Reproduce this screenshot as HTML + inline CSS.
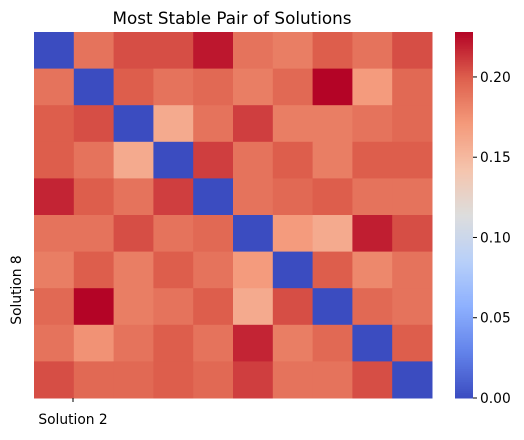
<!DOCTYPE html>
<html><head><meta charset="utf-8"><style>
body{margin:0;background:#fff;font-family:"Liberation Sans","DejaVu Sans",sans-serif}
</style></head><body>
<svg width="524" height="435" xmlns="http://www.w3.org/2000/svg" font-family="DejaVu Sans, Liberation Sans, sans-serif">
<text x="232" y="24" text-anchor="middle" font-size="16.8" fill="#000">Most Stable Pair of Solutions</text>
<g id="cells"></g>
<g id="cbar"></g>
<line x1="30" y1="290" x2="34" y2="290" stroke="#000"/>
<text x="21" y="290" font-size="13.8" text-anchor="middle" transform="rotate(-90 21 290)">Solution 8</text>
<line x1="73" y1="398" x2="73" y2="402" stroke="#000"/>
<text x="73" y="424" font-size="13.8" text-anchor="middle">Solution 2</text>
</svg>
<script>
const rowLabels=[0,1,2,3,4,5,6,7,8,9];
const values=[
[0,.19,.205,.205,.222,.19,.185,.2,.19,.205],
[.19,0,.2,.19,.195,.185,.195,.228,.17,.195],
[.2,.205,0,.16,.19,.21,.185,.185,.19,.195],
[.2,.19,.16,0,.21,.19,.2,.185,.2,.2],
[.218,.2,.19,.21,0,.19,.195,.2,.19,.19],
[.19,.19,.205,.19,.195,0,.17,.16,.22,.205],
[.185,.2,.185,.2,.19,.17,0,.2,.18,.19],
[.195,.228,.185,.19,.2,.16,.205,0,.195,.19],
[.19,.175,.19,.2,.19,.218,.185,.195,0,.2],
[.205,.195,.195,.2,.195,.21,.19,.19,.205,0]];
const cbTicks=[0,0.05,0.1,0.15,0.2];
const vmin=0,vmax=0.228;
const stops=[[0,59,76,192],[.125,98,130,234],[.25,141,176,254],[.375,184,208,249],[.5,221,221,221],[.625,245,196,173],[.75,244,154,123],[.875,222,96,77],[1,180,4,38]];
function cmap(t){t=Math.max(0,Math.min(1,t));for(let i=1;i<stops.length;i++){if(t<=stops[i][0]){const a=stops[i-1],b=stops[i],f=(t-a[0])/(b[0]-a[0]);return `rgb(${[1,2,3].map(k=>Math.round(a[k]+f*(b[k]-a[k]))).join(',')})`;}}return 'rgb(180,4,38)';}
const NS="http://www.w3.org/2000/svg";
const X0=34,X1=432,Y0=32,Y1=398;
const n=rowLabels.length,cw=(X1-X0)/n,ch=(Y1-Y0)/n;
const g=document.getElementById('cells');
values.forEach((row,i)=>row.forEach((v,j)=>{
const r=document.createElementNS(NS,'rect');
r.setAttribute('x',X0+j*cw);r.setAttribute('y',Y0+i*ch);
r.setAttribute('width',cw+0.5);r.setAttribute('height',ch+0.5);
r.setAttribute('fill',cmap((v-vmin)/(vmax-vmin)));


g.appendChild(r);}));
const cb=document.getElementById('cbar');
const CX=455,CW=18;
for(let k=0;k<200;k++){const r=document.createElementNS(NS,'rect');const h=(Y1-Y0)/200;
r.setAttribute('x',CX);r.setAttribute('y',Y1-(k+1)*h);r.setAttribute('width',CW);r.setAttribute('height',h+0.5);
r.setAttribute('fill',cmap((k+0.5)/200));


cb.appendChild(r);}
cbTicks.forEach(t=>{const y=Y1-(t-vmin)/(vmax-vmin)*(Y1-Y0);
const l=document.createElementNS(NS,'line');l.setAttribute('x1',CX+CW);l.setAttribute('x2',CX+CW+4);l.setAttribute('y1',y);l.setAttribute('y2',y);l.setAttribute('stroke','#000');


cb.appendChild(l);
const tx=document.createElementNS(NS,'text');tx.setAttribute('x',CX+CW+7);tx.setAttribute('y',y+5);tx.setAttribute('font-size','13.8');tx.textContent=t.toFixed(2);


cb.appendChild(tx);});
</script>
</body></html>
